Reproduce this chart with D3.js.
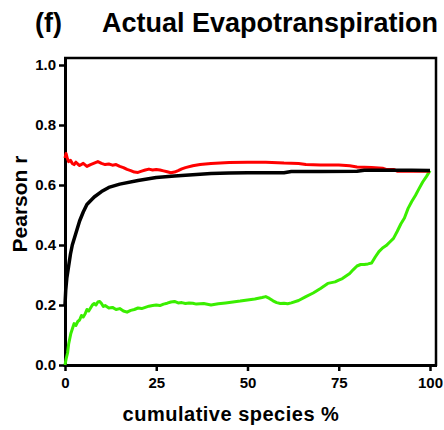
<!DOCTYPE html>
<html><head><meta charset="utf-8">
<script src="https://cdn.jsdelivr.net/npm/d3@7/dist/d3.min.js"></script>
<style>
body{margin:0;background:#fff;}
svg{display:block;}
text{font-family:Arial,"Liberation Sans",sans-serif;font-weight:bold;}
</style></head>
<body>
<svg id="c" width="444" height="430"></svg>
<script>
const xTicks = [0, 25, 50, 75, 100];
const yTicks = [0.0, 0.2, 0.4, 0.6, 0.8, 1.0];

const blackX = [0,0.2,0.5,1,1.5,2,3,4,5,6,8,10,12,15,20,25,30,35,40,45,50,55,60,62,70,80,82,90,95,100];
const blackY = [0.20,0.25,0.29,0.33,0.37,0.40,0.44,0.48,0.51,0.535,0.56,0.578,0.592,0.603,0.615,0.625,0.63,0.634,0.638,0.64,0.641,0.641,0.641,0.645,0.645,0.646,0.649,0.649,0.649,0.648];

const redX = [0,0.3,0.6,1,1.5,2,2.5,3,3.5,4,5,6,7,8,9,10,11,12,13,14,15,16,17,18,19,20,21,22,23,24,25,26,27,28,29,30,31,32,33,35,37,40,45,50,55,60,64,66,70,75,78,80,84,87,88,90,91,95,100];
const redY = [0.69,0.705,0.69,0.678,0.682,0.672,0.668,0.676,0.670,0.665,0.672,0.662,0.668,0.673,0.678,0.672,0.668,0.670,0.666,0.668,0.662,0.658,0.652,0.648,0.643,0.642,0.646,0.650,0.653,0.650,0.652,0.650,0.647,0.644,0.641,0.643,0.648,0.654,0.658,0.664,0.668,0.672,0.675,0.676,0.676,0.673,0.672,0.668,0.667,0.667,0.664,0.66,0.658,0.656,0.652,0.652,0.646,0.646,0.646];

const greenX = [0,0.3,0.7,1,1.6,2,2.5,3,3.5,4,4.5,5,5.5,6,6.5,7,7.5,8,8.5,9,9.5,10,10.5,11,12,13,14,15,16,17,18,19,20,21,22,23,24,25,26,27,28,29,30,31,32,33,34,35,36,38,40,42,44,46,48,50,52,54,55,56,57,58,59,60,61,62,64,66,68,70,72,74,75,76,78,79,80,81,82,83,84,85,86,87,88,89,90,91,92,93,94,95,96,97,98,99,100];
const greenY = [0.0,0.02,0.04,0.07,0.105,0.12,0.138,0.132,0.145,0.15,0.165,0.16,0.17,0.185,0.18,0.19,0.2,0.205,0.2,0.21,0.212,0.205,0.195,0.198,0.19,0.192,0.185,0.188,0.18,0.176,0.182,0.185,0.19,0.188,0.192,0.196,0.198,0.2,0.198,0.203,0.206,0.21,0.212,0.207,0.208,0.205,0.207,0.206,0.203,0.205,0.2,0.204,0.207,0.21,0.213,0.217,0.22,0.225,0.228,0.222,0.214,0.208,0.205,0.206,0.204,0.207,0.215,0.228,0.24,0.255,0.272,0.277,0.283,0.288,0.305,0.318,0.33,0.335,0.335,0.337,0.34,0.36,0.378,0.39,0.398,0.41,0.422,0.445,0.47,0.49,0.522,0.545,0.565,0.588,0.61,0.628,0.648];

const svg = d3.select("#c");
const x = d3.scaleLinear().domain([0, 100]).range([65, 430]);
const y = d3.scaleLinear().domain([0, 1]).range([365, 65]);

// frame top/right
svg.append("path")
  .attr("d", `M64,58 H436 V366`)
  .attr("fill", "none").attr("stroke", "#000").attr("stroke-width", 2.5);

const xAxis = svg.append("g").attr("transform", "translate(0,365)")
  .call(d3.axisBottom(x).tickValues(xTicks).tickSize(6).tickSizeOuter(0).tickFormat(d3.format("d")));
const yAxis = svg.append("g").attr("transform", "translate(65,0)")
  .call(d3.axisLeft(y).tickValues(yTicks).tickSize(6).tickSizeOuter(0).tickFormat(d3.format(".1f")));

[xAxis, yAxis].forEach(g => {
  g.select(".domain").attr("stroke-width", 3).attr("stroke", "#000");
  g.selectAll(".tick line").attr("stroke-width", 2.5).attr("stroke", "#000");
  g.selectAll(".tick text").attr("font-size", 15).attr("font-weight", "bold")
    .attr("font-family", "Arial, 'Liberation Sans', sans-serif").attr("fill", "#000");
});
xAxis.select(".domain").attr("d", "M63.5,0.5H437");
yAxis.select(".domain").attr("d", "M0.5,57V366.5");
xAxis.selectAll(".tick text").attr("dy", "0.95em");
yAxis.selectAll(".tick text").attr("x", -9);

const line = d3.line().x(d => x(d[0])).y(d => y(d[1]));
const series = [
  {xs: greenX, ys: greenY, color: "#3aee00", w: 3},
  {xs: redX, ys: redY, color: "#ff0000", w: 3},
  {xs: blackX, ys: blackY, color: "#000000", w: 3.5}
];
series.forEach(s => {
  svg.append("path")
    .datum(s.xs.map((v, i) => [v, s.ys[i]]))
    .attr("d", line)
    .attr("fill", "none").attr("stroke", s.color).attr("stroke-width", s.w)
    .attr("stroke-linejoin", "round");
});

// titles
svg.append("text").attr("x", 35).attr("y", 32).attr("font-size", 27).text("(f)");
svg.append("text").attr("x", 102).attr("y", 32).attr("font-size", 27).text("Actual Evapotranspiration");
svg.append("text").attr("x", 231).attr("y", 421).attr("font-size", 20)
  .attr("text-anchor", "middle").attr("letter-spacing", 0.5).text("cumulative species %");
svg.append("text").attr("transform", "translate(27,204) rotate(-90)")
  .attr("font-size", 21).attr("text-anchor", "middle").text("Pearson r");
</script>
</body></html>
